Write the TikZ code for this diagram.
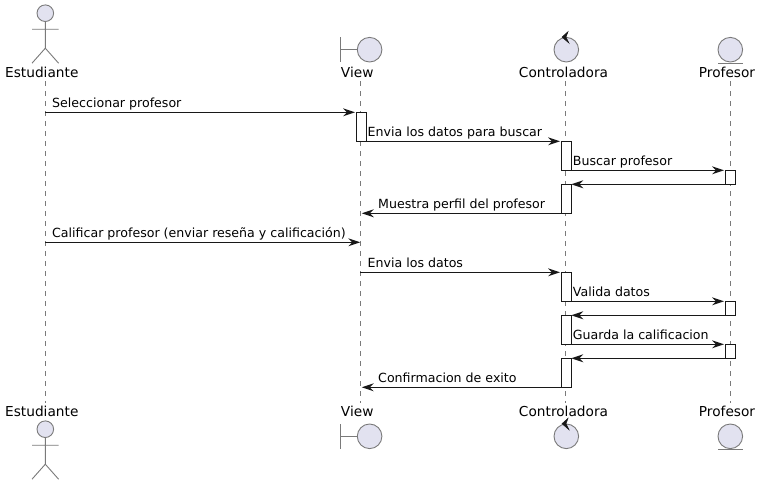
\documentclass[tikz,border=0pt]{standalone}
\usepackage{fontspec}
\setmainfont{DejaVu Sans}
\usetikzlibrary{arrows.meta}
\definecolor{partfill}{HTML}{E2E2F0}
\definecolor{inkdark}{HTML}{181818}
\definecolor{inkgray}{HTML}{7A7A7A}
\tikzset{
  x=1pt, y=-1pt,
  partline/.style={draw=inkgray, line width=0.9pt},
  lifeline/.style={draw=inkgray, line width=0.9pt, dash pattern=on 5pt off 5pt},
  msg/.style={draw=inkdark, line width=1pt, -{Stealth[length=12pt,width=8pt,inset=4pt,line width=0pt]}},
  actbar/.style={draw=inkdark, fill=white, line width=1pt, minimum width=10pt, inner sep=0pt, outer sep=0pt},
  msglabel/.style={anchor=base west, inner sep=0pt, text=black, font=\fontsize{12.6}{15}\selectfont},
  partlabel/.style={anchor=base, inner sep=0pt, text=black, font=\fontsize{13.7}{16}\selectfont},
  pics/actorfig/.style={code={
    \draw[partline, fill=partfill] (0,0) circle (8.3);
    \draw[partline] (0,8.3) -- (0,35) (-13.3,16) -- (13.3,16) (-13.3,50) -- (0,35) -- (13.3,50);
  }},
  pics/boundaryfig/.style={code={
    \draw[partline, fill=partfill] (0,0) circle (12.3);
    \draw[partline] (-29,-12.3) -- (-29,12.3) (-29,0) -- (-12.3,0);
  }},
  pics/controlfig/.style={code={
    \draw[partline, fill=partfill] (0,0) circle (12.3);
    \filldraw[inkdark, line width=0.5pt] (-4.3,-12.6) -- (1.7,-18) -- (-0.3,-12.6) -- (2.7,-6.6) -- cycle;
  }},
  pics/entityfig/.style={code={
    \draw[partline, fill=partfill] (0,0) circle (12.3);
    \draw[partline] (-12.3,13.3) -- (12.3,13.3);
  }},
}
\begin{document}
\begin{tikzpicture}
\fill[white] (0,0) rectangle (762,485);
\useasboundingbox (0,0) rectangle (762,485);

% participants, top
\pic at (45.3,13.2) {actorfig};
\pic at (369.6,49.7) {boundaryfig};
\pic at (566.3,49.7) {controlfig};
\pic at (730.3,49.7) {entityfig};
\node[partlabel] (estT) at (41.8,77.5) {Estudiante};
\node[partlabel] (viewT) at (357.2,77.5) {View};
\node[partlabel] (ctrlT) at (563.5,77.5) {Controladora};
\node[partlabel] (profT) at (727,77.5) {Profesor};

% participants, bottom
\pic at (45.3,429.2) {actorfig};
\pic at (369.6,436.3) {boundaryfig};
\pic at (566.3,436.3) {controlfig};
\pic at (730.3,436.3) {entityfig};
\node[partlabel] (estB) at (41.8,416.5) {Estudiante};
\node[partlabel] (viewB) at (357.2,416.5) {View};
\node[partlabel] (ctrlB) at (563.5,416.5) {Controladora};
\node[partlabel] (profB) at (727,416.5) {Profesor};

% lifelines
\coordinate (eTop) at (45.3,81);  \coordinate (eBot) at (45.3,403);
\coordinate (vTop) at (360.3,81); \coordinate (vBot) at (360.3,403);
\coordinate (cTop) at (565.3,81); \coordinate (cBot) at (565.3,403);
\coordinate (pTop) at (730.3,81); \coordinate (pBot) at (730.3,403);
\draw[lifeline] (eTop) -- (eBot);
\draw[lifeline] (vTop) -- (vBot);
\draw[lifeline] (cTop) -- (cBot);
\draw[lifeline] (pTop) -- (pBot);

% activation bars
\node[actbar, minimum height=29pt] (v1) at (361.3,126.8) {};
\node[actbar, minimum height=29pt] (c1) at (566.3,155.8) {};
\node[actbar, minimum height=14pt] (p1) at (730.3,177.3) {};
\node[actbar, minimum height=29pt] (c2) at (566.3,198.8) {};
\node[actbar, minimum height=29pt] (c3) at (566.3,286.8) {};
\node[actbar, minimum height=14pt] (p2) at (730.3,308.3) {};
\node[actbar, minimum height=29pt] (c4) at (566.3,329.8) {};
\node[actbar, minimum height=14pt] (p3) at (730.3,351.3) {};
\node[actbar, minimum height=29pt] (c5) at (566.3,372.8) {};

% free ends on lifelines
\coordinate (e1) at (45.3,112.3);
\coordinate (e2) at (45.3,242.3);
\coordinate (v2) at (360.3,242.3);
\coordinate (v3) at (360.3,272.3);
\coordinate (v4) at (361.8,213.3);
\coordinate (v5) at (361.8,387.3);

% messages
\draw[msg, shorten >=1.3pt] (e1) -- (v1.north west);
\draw[msg, shorten >=1.3pt] (v1.south east) -- (c1.north west);
\draw[msg, shorten >=1.3pt] (c1.south east) -- (p1.north west);
\draw[msg] (p1.south west) -- (c2.north east);
\draw[msg] (c2.south west) -- (v4);
\draw[msg] (e2) -- (v2);
\draw[msg, shorten >=1.3pt] (v3) -- (c3.north west);
\draw[msg, shorten >=1.3pt] (c3.south east) -- (p2.north west);
\draw[msg] (p2.south west) -- (c4.north east);
\draw[msg, shorten >=1.3pt] (c4.south east) -- (p3.north west);
\draw[msg] (p3.south west) -- (c5.north east);
\draw[msg] (c5.south west) -- (v5);

% message labels
\node[msglabel] (m1) at (52,107) {Seleccionar profesor};
\node[msglabel] (m2) at (367.5,136) {Envia los datos para buscar};
\node[msglabel] (m3) at (572.7,165) {Buscar profesor};
\node[msglabel] (m4) at (378,208) {Muestra perfil del profesor};
\node[msglabel] (m5) at (52,237) {Calificar profesor (enviar reseña y calificación)};
\node[msglabel] (m6) at (367.5,267) {Envia los datos};
\node[msglabel] (m7) at (572.7,296) {Valida datos};
\node[msglabel] (m8) at (572.7,339) {Guarda la calificacion};
\node[msglabel] (m9) at (378,382) {Confirmacion de exito};
\end{tikzpicture}
\end{document}
